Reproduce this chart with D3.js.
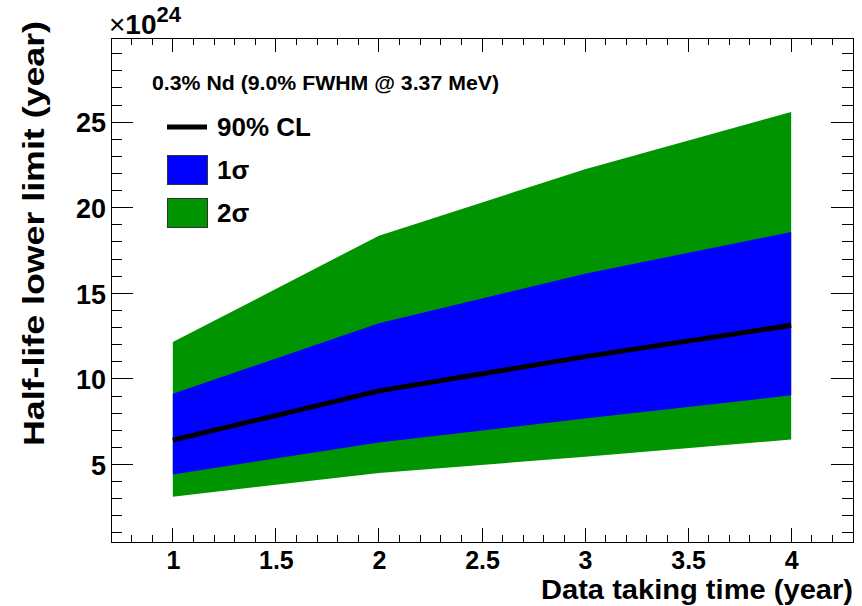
<!DOCTYPE html>
<html>
<head>
<meta charset="utf-8">
<script src="https://cdn.jsdelivr.net/npm/d3@7"></script>
<style>
  html, body { margin: 0; padding: 0; background: #fff; }
  svg { display: block; }
  text { font-family: "Liberation Sans", Arial, Helvetica, sans-serif; font-weight: bold; fill: #000; }
</style>
</head>
<body>
<svg id="chart" width="862" height="606"></svg>
<script>
// Data taking time (years) and the half-life lower limits (units of 1e24 years)
const years    = [1, 2, 3, 4];
const cl90     = [6.42, 9.30, 11.30, 13.13];
const sigma1Lo = [4.42, 6.28, 7.68, 9.04];
const sigma1Hi = [9.13, 13.25, 16.15, 18.58];
const sigma2Lo = [3.12, 4.50, 5.45, 6.46];
const sigma2Hi = [12.15, 18.37, 22.25, 25.60];

const xTickValues = [1, 1.5, 2, 2.5, 3, 3.5, 4];
const yTickValues = [5, 10, 15, 20, 25];

const legendItems = [
  { label: "90% CL", kind: "line", color: "#000000" },
  { label: "1\u03C3", kind: "box", color: "#0000ff" },
  { label: "2\u03C3", kind: "box", color: "#009400" }
];

const frame = { left: 111, right: 853, top: 38, bottom: 542 };

const svg = d3.select("#chart");

const x = d3.scaleLinear().domain([0.7, 4.3]).range([frame.left, frame.right]);
const y = d3.scaleLinear().domain([0.47, 29.92]).range([frame.bottom, frame.top]);

const rows = years.map((t, i) => ({
  t, cl: cl90[i], s1lo: sigma1Lo[i], s1hi: sigma1Hi[i], s2lo: sigma2Lo[i], s2hi: sigma2Hi[i]
}));

// 2 sigma band, then 1 sigma band, then the 90% CL curve
svg.append("path")
  .datum(rows)
  .attr("fill", legendItems[2].color)
  .attr("d", d3.area().x(d => x(d.t)).y0(d => y(d.s2lo)).y1(d => y(d.s2hi)));

svg.append("path")
  .datum(rows)
  .attr("fill", legendItems[1].color)
  .attr("d", d3.area().x(d => x(d.t)).y0(d => y(d.s1lo)).y1(d => y(d.s1hi)));

svg.append("path")
  .datum(rows)
  .attr("fill", "none")
  .attr("stroke", "#000")
  .attr("stroke-width", 5)
  .attr("d", d3.line().x(d => x(d.t)).y(d => y(d.cl)));

// ROOT-style inward ticks on all four sides of the frame
const xMinor = d3.range(7, 44, 1).map(v => v / 10);
const yMinor = d3.range(1, 30, 1);
const xMajLen = 14, xMinLen = 7, yMajLen = 22, yMinLen = 11;

function drawTicks(scale, values, len, orient) {
  const g = svg.append("g")
    .attr("stroke", "#000").attr("stroke-width", 1).attr("shape-rendering", "crispEdges");
  if (orient === "bottom" || orient === "top") {
    const base = orient === "bottom" ? frame.bottom : frame.top;
    const dir = orient === "bottom" ? -1 : 1;
    g.attr("transform", `translate(0,${base})`);
    values.forEach(v => {
      g.append("line").attr("x1", scale(v)).attr("x2", scale(v))
        .attr("y1", 0).attr("y2", dir * len);
    });
  } else {
    const base = orient === "left" ? frame.left : frame.right;
    const dir = orient === "left" ? 1 : -1;
    g.attr("transform", `translate(${base},0)`);
    values.forEach(v => {
      g.append("line").attr("y1", scale(v)).attr("y2", scale(v))
        .attr("x1", 0).attr("x2", dir * len);
    });
  }
}

const xMinorOnly = xMinor.filter(v => !xTickValues.some(m => Math.abs(m - v) < 1e-6));
const yMinorOnly = yMinor.filter(v => !yTickValues.includes(v));
["bottom", "top"].forEach(o => {
  drawTicks(x, xTickValues, xMajLen, o);
  drawTicks(x, xMinorOnly, xMinLen, o);
});
["left", "right"].forEach(o => {
  drawTicks(y, yTickValues, yMajLen, o);
  drawTicks(y, yMinorOnly, yMinLen, o);
});

// Frame
svg.append("rect")
  .attr("x", frame.left).attr("y", frame.top)
  .attr("width", frame.right - frame.left).attr("height", frame.bottom - frame.top)
  .attr("fill", "none").attr("stroke", "#000").attr("stroke-width", 1)
  .attr("shape-rendering", "crispEdges");

// Tick labels via d3 axes (lines hidden, labels only)
const xLab = svg.append("g").attr("transform", `translate(0,${frame.bottom})`)
  .call(d3.axisBottom(x).tickValues(xTickValues).tickSize(0).tickPadding(0).tickFormat(d3.format("")));
xLab.select(".domain").remove();
xLab.selectAll("text")
  .attr("dy", null).attr("y", 27)
  .style("font-family", "'Liberation Sans', Arial, sans-serif")
  .style("font-weight", "bold").style("font-size", "25px").attr("fill", "#000");

const yLab = svg.append("g").attr("transform", `translate(${frame.left},0)`)
  .call(d3.axisLeft(y).tickValues(yTickValues).tickSize(0).tickPadding(0).tickFormat(d3.format("d")));
yLab.select(".domain").remove();
yLab.selectAll("text")
  .attr("x", -5).attr("dy", "0.36em")
  .style("font-family", "'Liberation Sans', Arial, sans-serif")
  .style("font-weight", "bold").style("font-size", "27px").attr("fill", "#000");

// Exponent marker
const expo = svg.append("text").attr("x", frame.left - 2).attr("y", 34).style("font-size", "28px");
expo.append("tspan").text("\u00D7").style("font-weight", "normal");
expo.append("tspan").text("10");
expo.append("tspan").text("24").attr("dy", -12).style("font-size", "22px");

// Axis titles
svg.append("text")
  .attr("text-anchor", "end")
  .attr("x", frame.right).attr("y", 599)
  .attr("textLength", 312).attr("lengthAdjust", "spacingAndGlyphs")
  .style("font-size", "28px")
  .text("Data taking time (year)");

svg.append("text")
  .attr("text-anchor", "start")
  .attr("transform", "translate(44,446) rotate(-90)")
  .attr("textLength", 425).attr("lengthAdjust", "spacingAndGlyphs")
  .style("font-size", "30px")
  .text("Half-life lower limit (year)");

// Annotation
svg.append("text")
  .attr("x", 152).attr("y", 90)
  .attr("textLength", 347).attr("lengthAdjust", "spacingAndGlyphs")
  .style("font-size", "20px")
  .text("0.3% Nd (9.0% FWHM @ 3.37 MeV)");

// Legend
const legend = svg.append("g").attr("transform", "translate(167,127)");
legendItems.forEach((item, i) => {
  const g = legend.append("g").attr("transform", `translate(0,${i * 43})`);
  if (item.kind === "line") {
    g.append("line").attr("x1", 0).attr("x2", 40).attr("y1", 0).attr("y2", 0)
      .attr("stroke", item.color).attr("stroke-width", 5);
  } else {
    g.append("rect").attr("x", 0.5).attr("y", -14.5).attr("width", 40).attr("height", 29)
      .attr("fill", item.color).attr("stroke", "#333").attr("stroke-width", 1);
  }
  g.append("text").attr("x", 50).attr("y", 0).attr("dy", "0.36em")
    .style("font-size", "26px").text(item.label);
});
</script>
</body>
</html>
